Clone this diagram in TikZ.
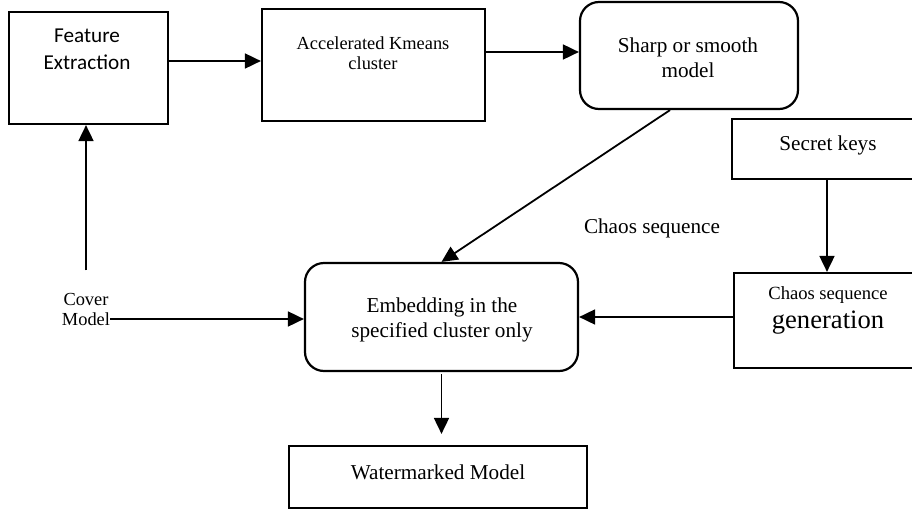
\documentclass[tikz,border=0pt]{standalone}
\usepackage{fontspec}
\setmainfont{Liberation Serif}
\newfontfamily\carlito{Carlito}
\usetikzlibrary{arrows.meta}

\begin{document}
\begin{tikzpicture}[x=0.5pt, y=-0.5pt,
	kasten/.style={draw=black, line width=1.1pt, inner sep=0pt},
	rund/.style={kasten, rounded corners=9.5pt},
	txt/.style={align=center, inner sep=0pt, font=\fontsize{10.6}{12.2}\selectfont},
	klein/.style={align=center, inner sep=0pt, font=\fontsize{9.2}{10}\selectfont},
	pfeil/.style={line width=0.9pt, -{Triangle[length=8pt, width=7.5pt]}}]
	\useasboundingbox (0,0) rectangle (912,509);
	\clip (0,0) rectangle (912,509);
	% Kaesten
	\node[kasten, minimum width=79.5pt, minimum height=56pt] (feature) at (88.5,68) {};
	\node[kasten, minimum width=111.5pt, minimum height=56pt] (kmeans) at (373.5,65) {};
	\node[rund, minimum width=109pt, minimum height=53.5pt] (sharp) at (689,55.5) {};
	\node[kasten, minimum width=95pt, minimum height=30pt] (keys) at (827,149) {};
	\node[kasten, minimum width=94pt, minimum height=47.5pt] (chaosgen) at (828,320.5) {};
	\node[rund, minimum width=136.5pt, minimum height=54pt] (embed) at (441.5,317) {};
	\node[kasten, minimum width=149pt, minimum height=31pt] (wm) at (438,477) {};
	% Beschriftungen
	\node[txt, font=\carlito\fontsize{10.6}{13.5}\selectfont] (featureT) at (87,49) {Feature\\Extraction};
	\node[klein] (kmeansT) at (373,53) {Accelerated Kmeans\\cluster};
	\node[txt, font=\fontsize{10.6}{12.5}\selectfont] (sharpT) at (688,58) {Sharp or smooth\\model};
	\node[txt] (keysT) at (828,145) {Secret keys};
	\node[txt] (chaoslbl) at (652,228) {Chaos sequence};
	\node[align=center, inner sep=0pt] (chaosgenT) at (828,310) {{\fontsize{9.3}{11}\selectfont Chaos sequence}\\[2.5pt]{\fontsize{13.3}{14}\selectfont generation}};
	\node[txt] (embedT) at (442,320) {Embedding in the\\specified cluster only};
	\node[txt] (wmT) at (438,472) {Watermarked Model};
	\node[klein] (cover) at (86,309) {Cover\\Model};
	% Pfeile
	\draw[pfeil] ([yshift=3.5pt]feature.east) -- ([yshift=3.5pt]feature.east -| kmeans.west);
	\draw[pfeil] ([yshift=6.5pt]kmeans.east) -- ([yshift=6.5pt]kmeans.east -| sharp.west);
	\draw[pfeil] ([xshift=-9.5pt]sharp.south) -- (embed.north);
	\draw[pfeil] ([yshift=11pt]cover.north) -- (cover.north |- feature.south);
	\draw[pfeil] ([yshift=-5pt]cover.east) -- ([yshift=-5pt]cover.east -| embed.west);
	\draw[pfeil] (keys.south) -- (keys.south |- chaosgen.north);
	\draw[pfeil] (chaosgen.west |- embed.east) -- (embed.east);
	\draw[pfeil] ([yshift=-1pt]embed.south) -- ([yshift=5.5pt]embed.south |- wm.north);
\end{tikzpicture}
\end{document}
